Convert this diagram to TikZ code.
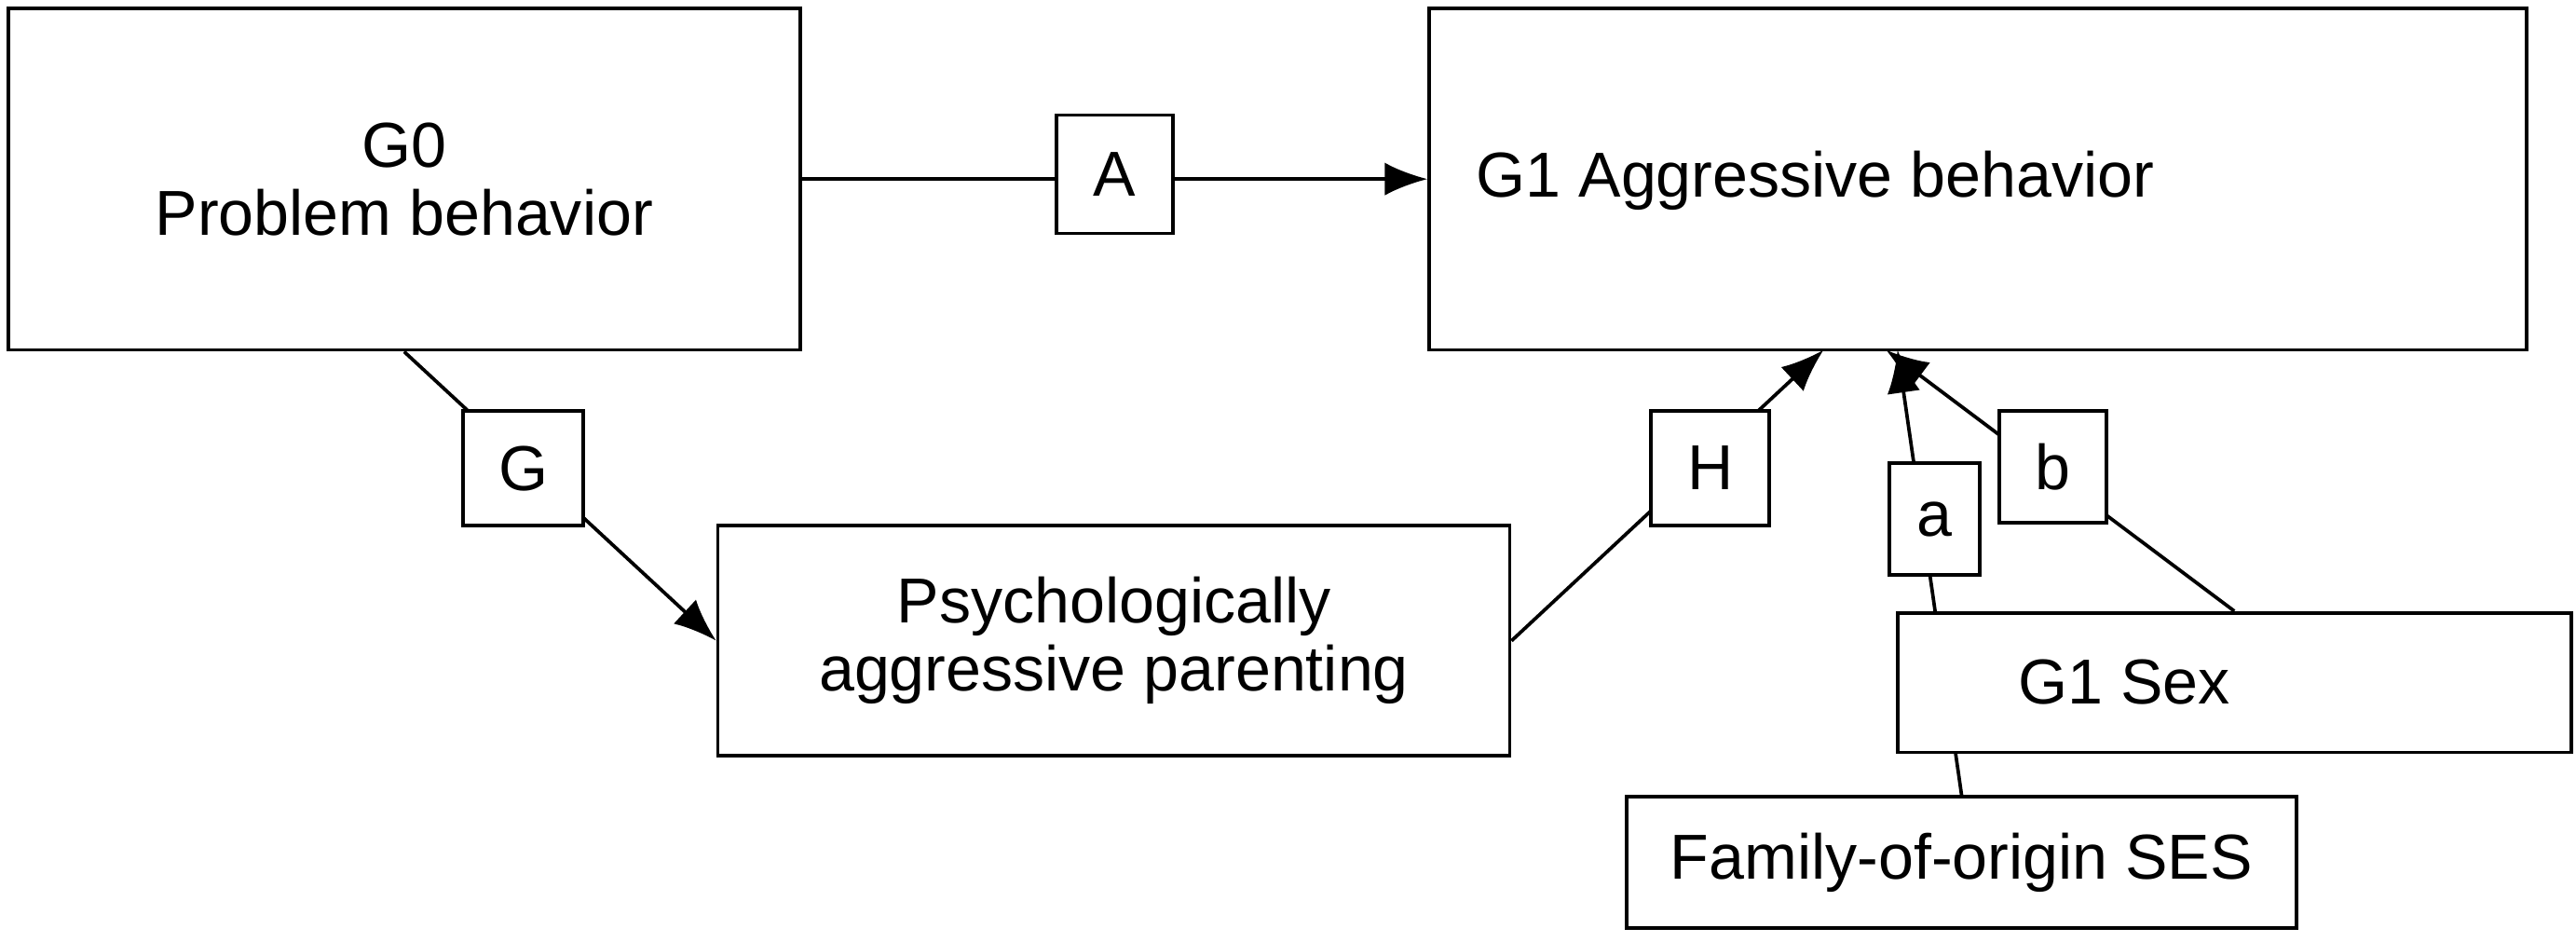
\documentclass[tikz,border=0pt]{standalone}
\usepackage{fontspec}
\setmainfont{Liberation Sans}
\usetikzlibrary{arrows.meta,backgrounds}
\begin{document}
\begin{tikzpicture}[
    box/.style={draw, line width=0.6pt, fill=white, inner sep=0pt, align=center},
    lbl/.style={draw, line width=0.6pt, fill=white, inner sep=0pt},
    path/.style={line width=0.6pt},
    arr/.style={line width=0.6pt, -{Latex[length=2.6mm,width=2mm]}},
    every node/.style={font=\fontsize{11}{11.8}\selectfont}
]
\useasboundingbox (0,0) rectangle (15.68,-5.73);

    \node (g0) at (2.46,-1.09) [box, minimum width=4.82cm, minimum height=2.08cm] {G0\\Problem behavior};
    \node (g1) at (12.04,-1.09) [box, minimum width=6.68cm, minimum height=2.08cm] {};
    \node (g1t) at (11.05,-1.10) {G1 Aggressive behavior};
    \node (pap) at (6.78,-3.90) [box, minimum width=4.82cm, minimum height=1.40cm] {Psychologically\\aggressive parenting};
    \node (fam) at (11.94,-5.25) [box, minimum width=4.08cm, minimum height=0.80cm] {Family-of-origin SES};
    \node (sex) at (13.60,-4.155) [box, minimum width=4.10cm, minimum height=0.85cm] {};
    \node (sext) at (12.93,-4.15) {G1 Sex};

    \node (A) at (6.785,-1.06) [lbl, minimum width=0.71cm, minimum height=0.72cm] {A};
    \node (G) at (3.185,-2.85) [lbl, minimum width=0.73cm, minimum height=0.70cm] {G};
    \node (H) at (10.41,-2.85) [lbl, minimum width=0.72cm, minimum height=0.70cm] {H};
    \node (a) at (11.775,-3.16) [lbl, minimum width=0.55cm, minimum height=0.68cm] {a};
    \node (b) at (12.495,-2.84) [lbl, minimum width=0.65cm, minimum height=0.68cm] {b};

    \coordinate (hEnd) at (11.10,-2.13);
    \coordinate (aEnd) at (11.55,-2.13);
    \coordinate (bEnd) at (11.48,-2.13);

    \begin{pgfonlayer}{background}
        \draw[arr] (g0.east) -- (g1.west);
        \draw[arr] (g0.south) -- (pap.west);
        \draw[arr] (pap.east) -- (hEnd);
        \draw[arr] (fam.north) -- (aEnd);
        \draw[arr] (sex.north) -- (bEnd);
    \end{pgfonlayer}

\end{tikzpicture}
\end{document}
